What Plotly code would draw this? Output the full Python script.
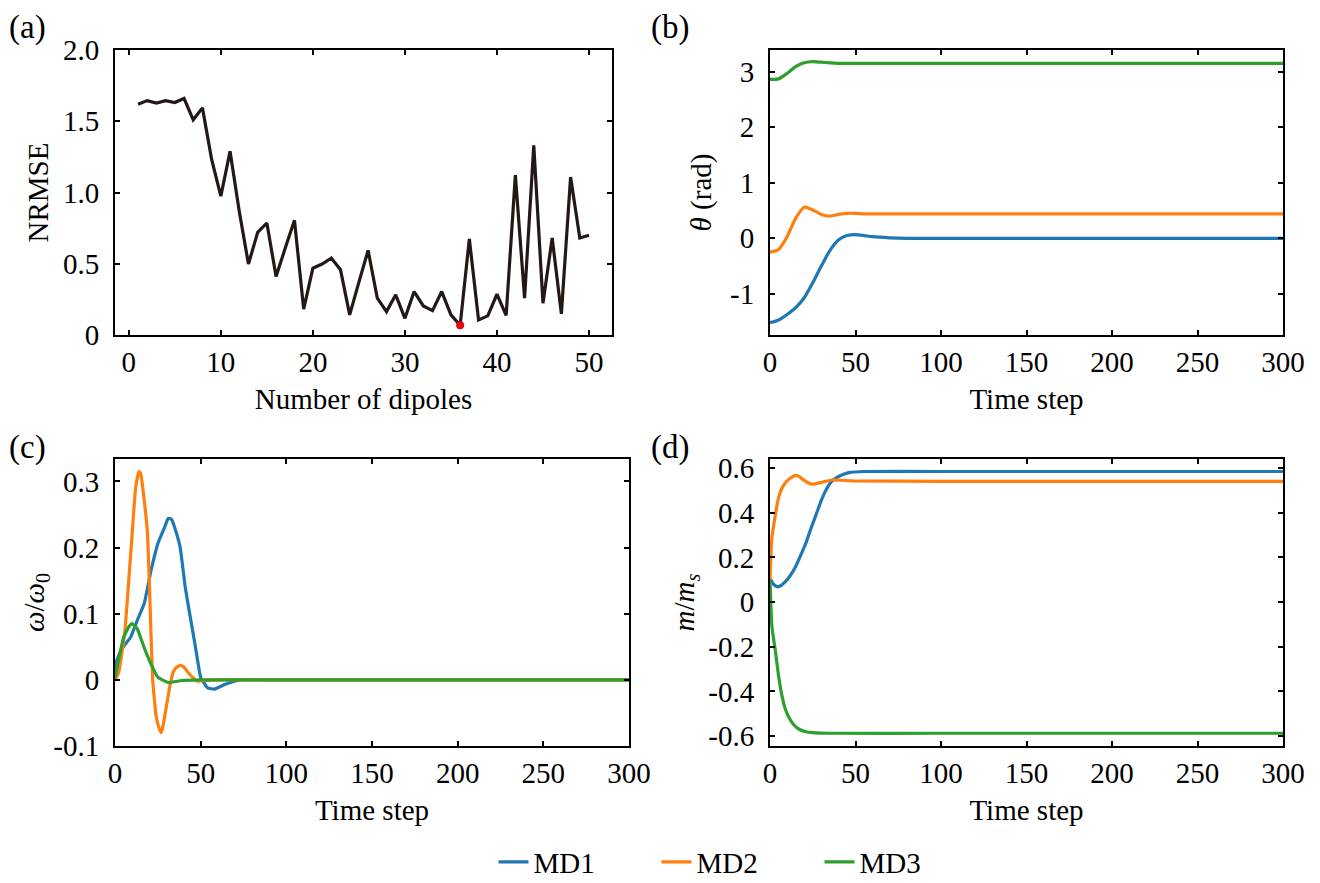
import plotly.graph_objects as go
import numpy as np

# ---------------- data ----------------
# (a) NRMSE vs number of dipoles
n_dipoles = list(range(1, 51))
nrmse = [1.62, 1.645, 1.627, 1.645, 1.631, 1.66, 1.51, 1.594, 1.232, 0.974,
         1.289, 0.869, 0.498, 0.72, 0.786, 0.411, 0.61, 0.805, 0.181, 0.469,
         0.498, 0.54, 0.458, 0.141, 0.371, 0.594, 0.258, 0.164, 0.282, 0.117,
         0.305, 0.204, 0.171, 0.305, 0.141, 0.068, 0.674, 0.106, 0.134, 0.286,
         0.138, 1.122, 0.258, 1.331, 0.223, 0.681, 0.148, 1.108, 0.681, 0.70]

# (b) theta (rad)
t_theta = [0, 5, 10, 15, 20, 25, 30, 35, 40, 45, 50, 55, 60, 70, 80, 100, 150, 200, 250, 300]
theta_md1 = [-1.52, -1.47, -1.37, -1.25, -1.07, -0.80, -0.50, -0.22, -0.03, 0.05, 0.065, 0.05, 0.03, 0.01, 0.0, 0.0, 0.0, 0.0, 0.0, 0.0]
theta_md2 = [-0.25, -0.20, 0.03, 0.36, 0.56, 0.51, 0.43, 0.40, 0.43, 0.45, 0.45, 0.44, 0.44, 0.44, 0.44, 0.44, 0.44, 0.44, 0.44, 0.44]
theta_md3 = [2.86, 2.87, 2.97, 3.09, 3.16, 3.18, 3.17, 3.16, 3.15, 3.15, 3.15, 3.15, 3.15, 3.15, 3.15, 3.15, 3.15, 3.15, 3.15, 3.15]

# (c) omega / omega0
t_w1 = [0, 1, 4, 9, 13, 17, 21, 25, 29, 31, 33, 35, 38, 41, 44, 47, 50, 54, 58, 64, 73, 90, 150, 200, 250, 300]
w_md1 = [0.005, 0.029, 0.047, 0.064, 0.09, 0.115, 0.165, 0.206, 0.231, 0.244, 0.243, 0.229, 0.201, 0.14, 0.094, 0.049, 0.004, -0.012, -0.014, -0.007, 0.0, 0.0, 0.0, 0.0, 0.0, 0.0]
t_w2 = [0, 2, 4, 6, 8, 10, 12, 14, 15, 16, 18, 19, 20, 21, 22, 23, 24, 26, 27, 28, 30, 32, 34, 36, 38, 40, 43, 46, 48, 52, 60, 100, 150, 200, 250, 300]
w_md2 = [0.0, 0.01, 0.04, 0.08, 0.15, 0.22, 0.29, 0.315, 0.312, 0.295, 0.25, 0.22, 0.15, 0.07, 0.0, -0.03, -0.055, -0.075, -0.08, -0.07, -0.04, -0.01, 0.012, 0.019, 0.022, 0.02, 0.01, 0.002, -0.002, -0.001, 0.0, 0.0, 0.0, 0.0, 0.0, 0.0]
t_w3 = [0, 2, 5, 8, 10, 13, 17, 21, 25, 31, 39, 50, 100, 150, 200, 250, 300]
w_md3 = [0.003, 0.029, 0.064, 0.08, 0.085, 0.077, 0.049, 0.024, 0.004, -0.004, -0.001, 0.0, 0.0, 0.0, 0.0, 0.0, 0.0]

# (d) m / m_s
t_m1 = [0, 2, 4, 6, 9, 12, 15, 18, 21, 24, 27, 30, 33, 36, 39, 43, 47, 55, 100, 150, 200, 250, 300]
m_md1 = [0.107, 0.08, 0.069, 0.072, 0.091, 0.12, 0.159, 0.21, 0.264, 0.33, 0.392, 0.455, 0.505, 0.54, 0.557, 0.572, 0.58, 0.584, 0.584, 0.584, 0.584, 0.584, 0.584]
t_m2 = [0, 1, 3, 5, 7, 9, 12, 15, 17, 19, 22, 25, 28, 31, 36, 42, 48, 100, 150, 200, 250, 300]
m_md2 = [0.1, 0.28, 0.384, 0.467, 0.51, 0.534, 0.555, 0.567, 0.562, 0.55, 0.535, 0.527, 0.532, 0.537, 0.546, 0.545, 0.542, 0.54, 0.54, 0.54, 0.54, 0.54]
t_m3 = [0, 1, 2, 3, 5, 7, 9, 11, 14, 17, 21, 25, 35, 100, 150, 200, 250, 300]
m_md3 = [0.1, -0.1, -0.16, -0.21, -0.33, -0.42, -0.48, -0.515, -0.55, -0.569, -0.58, -0.584, -0.587, -0.587, -0.587, -0.587, -0.587, -0.587]

series_names = ["MD1", "MD2", "MD3"]
colors = ["#1f77b4", "#ff7f0e", "#2ca02c"]

# ---------------- figure ----------------
W, H = 1320, 883
OFF = 8  # page body margin offset
FONT = "Liberation Serif"
FS = 29

fig = go.Figure()

# (a)
fig.add_trace(go.Scatter(x=n_dipoles, y=nrmse, mode="lines",
                         line=dict(color="#231815", width=3.2),
                         xaxis="x", yaxis="y", showlegend=False))
i_best = int(np.argmin(nrmse))
fig.add_trace(go.Scatter(x=[n_dipoles[i_best]], y=[nrmse[i_best]], mode="markers",
                         marker=dict(color="#e60012", size=8),
                         xaxis="x", yaxis="y", showlegend=False))

# (b)
for name, ys, c in zip(series_names, [theta_md1, theta_md2, theta_md3], colors):
    fig.add_trace(go.Scatter(x=t_theta, y=ys, mode="lines", name=name,
                             line=dict(color=c, width=3.2, shape="spline", smoothing=0.6),
                             xaxis="x2", yaxis="y2", showlegend=True))
# (c)
for name, ts, ys, c in zip(series_names, [t_w1, t_w2, t_w3], [w_md1, w_md2, w_md3], colors):
    fig.add_trace(go.Scatter(x=ts, y=ys, mode="lines", name=name,
                             line=dict(color=c, width=3.2, shape="spline", smoothing=0.4),
                             xaxis="x3", yaxis="y3", showlegend=False))
# (d)
for name, ts, ys, c in zip(series_names, [t_m1, t_m2, t_m3], [m_md1, m_md2, m_md3], colors):
    fig.add_trace(go.Scatter(x=ts, y=ys, mode="lines", name=name,
                             line=dict(color=c, width=3.2, shape="spline", smoothing=0.4),
                             xaxis="x4", yaxis="y4", showlegend=False))


def px_dom_x(a, b):
    return [(a - OFF) / W, (b - OFF) / W]


def px_dom_y(top, bottom):
    return [1 - (bottom - OFF) / H, 1 - (top - OFF) / H]


axis_common = dict(showline=True, linecolor="black", linewidth=2, mirror="ticks",
                   ticks="inside", ticklen=5, tickwidth=2, tickcolor="black",
                   showgrid=False, zeroline=False, automargin=False,
                   tickfont=dict(family=FONT, size=FS, color="black"),
                   title_font=dict(family=FONT, size=FS, color="black"))


def ax(**kw):
    d = dict(axis_common)
    d.update(kw)
    return d


def xax(**kw):
    return ax(ticklabelstandoff=0, **kw)


def yax(**kw):
    return ax(ticklabelstandoff=8, **kw)


t_ticks = [0, 50, 100, 150, 200, 250, 300]

fig.update_layout(
    template="none",
    width=W, height=H,
    margin=dict(l=0, r=0, t=0, b=0),
    paper_bgcolor="white", plot_bgcolor="white",
    font=dict(family=FONT, size=FS, color="black"),
    xaxis=xax(domain=px_dom_x(115, 612), anchor="y", range=[-1.5, 52.5],
              tickvals=[0, 10, 20, 30, 40, 50], title=dict(text="Number of dipoles", standoff=12)),
    yaxis=yax(domain=px_dom_y(50, 335), anchor="x", range=[0, 2.0],
              tickvals=[0, 0.5, 1.0, 1.5, 2.0], ticktext=["0", "0.5", "1.0", "1.5", "2.0"],
              title=dict(text="NRMSE", standoff=6)),
    xaxis2=xax(domain=px_dom_x(770, 1283), anchor="y2", range=[0, 300],
               tickvals=t_ticks, title=dict(text="Time step", standoff=12)),
    yaxis2=yax(domain=px_dom_y(50, 335), anchor="x2", range=[-1.74, 3.39],
               tickvals=[-1, 0, 1, 2, 3], ticktext=["-1", "0", "1", "2", "3"],
               title=dict(text="<i>θ</i> (rad)", standoff=10)),
    xaxis3=xax(domain=px_dom_x(115, 629), anchor="y3", range=[0, 300],
               tickvals=t_ticks, title=dict(text="Time step", standoff=12)),
    yaxis3=yax(domain=px_dom_y(459, 746), anchor="x3", range=[-0.1, 0.334],
               tickvals=[-0.1, 0, 0.1, 0.2, 0.3], ticktext=["-0.1", "0", "0.1", "0.2", "0.3"],
               title=dict(text="<i>ω</i>/<i>ω</i><sub>0</sub>", standoff=0)),
    xaxis4=xax(domain=px_dom_x(770, 1283), anchor="y4", range=[0, 300],
               tickvals=t_ticks, title=dict(text="Time step", standoff=12)),
    yaxis4=yax(domain=px_dom_y(459, 746), anchor="x4", range=[-0.644, 0.64],
               tickvals=[-0.6, -0.4, -0.2, 0, 0.2, 0.4, 0.6],
               ticktext=["-0.6", "-0.4", "-0.2", "0", "0.2", "0.4", "0.6"],
               title=dict(text="<i>m</i>/<i>m</i><sub><i>s</i></sub>", standoff=5)),
    legend=dict(orientation="h", x=(738 - OFF) / W, xanchor="center", y=1 - (862 - OFF) / H,
                yanchor="middle",
                font=dict(family=FONT, size=FS, color="black"),
                entrywidth=118, entrywidthmode="pixels", bgcolor="rgba(0,0,0,0)"),
)

for txt, xp, yp in [("(a)", 27, 27), ("(b)", 670, 27), ("(c)", 27, 447), ("(d)", 670, 447)]:
    fig.add_annotation(text=txt, xref="paper", yref="paper", x=(xp - OFF) / W, y=1 - (yp - OFF) / H,
                       xanchor="center", yanchor="middle", showarrow=False,
                       font=dict(family=FONT, size=33, color="black"))

fig.write_html("out.html")
